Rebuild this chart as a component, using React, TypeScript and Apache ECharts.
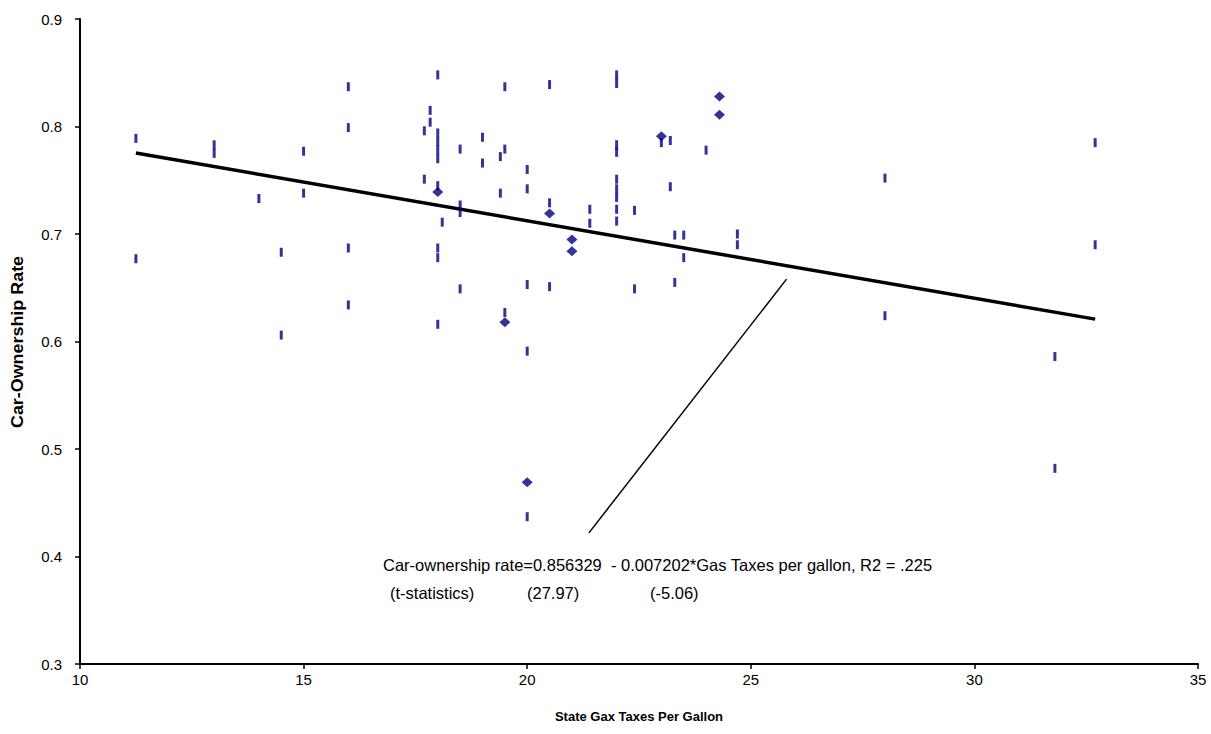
import React, { useEffect, useRef } from "react";
import * as echarts from "echarts";

// Observations drawn as short vertical dashes
const dashX = [
  11.25, 11.25, 13.0, 13.0, 14.0, 14.5, 14.5, 15.0, 15.0, 16.0, 16.0, 16.0, 16.0,
  17.7, 17.7, 17.83, 17.83, 18.0, 18.0, 18.0, 18.0, 18.0, 18.0, 18.0, 18.0, 18.0,
  18.1, 18.5, 18.5, 18.5, 18.5, 19.0, 19.0, 19.4, 19.4, 19.5, 19.5, 19.5,
  20.0, 20.0, 20.0, 20.0, 20.0, 20.5, 20.5, 20.5, 21.4, 21.4,
  22.0, 22.0, 22.0, 22.0, 22.0, 22.0, 22.0, 22.0, 22.0, 22.4, 22.4,
  23.0, 23.2, 23.2, 23.3, 23.3, 23.5, 23.5, 24.0, 24.7, 24.7,
  28.0, 28.0, 31.8, 31.8, 32.7, 32.7,
];
const dashY = [
  0.789, 0.677, 0.783, 0.775, 0.733, 0.683, 0.606, 0.777, 0.738, 0.837, 0.799, 0.687, 0.634,
  0.796, 0.751, 0.815, 0.804, 0.848, 0.794, 0.786, 0.778, 0.77, 0.745, 0.687, 0.678, 0.616,
  0.711, 0.779, 0.727, 0.72, 0.649, 0.79, 0.766, 0.772, 0.738, 0.837, 0.779, 0.627,
  0.76, 0.742, 0.653, 0.591, 0.437, 0.839, 0.729, 0.651, 0.723, 0.71,
  0.848, 0.84, 0.783, 0.776, 0.751, 0.742, 0.734, 0.723, 0.712, 0.722, 0.649,
  0.785, 0.787, 0.744, 0.699, 0.655, 0.699, 0.678, 0.778, 0.7, 0.69,
  0.752, 0.624, 0.586, 0.482, 0.785, 0.69,
];

// Observations drawn as diamonds
const diamondX = [18.0, 19.5, 20.0, 20.5, 21.0, 21.0, 23.0, 24.3, 24.3];
const diamondY = [0.739, 0.618, 0.469, 0.719, 0.695, 0.684, 0.791, 0.828, 0.811];

// Regression
const intercept = 0.856329;
const slope = -0.007202;
const fitX = [11.25, 32.7];

// Pointer line from annotation to the fit line
const pointerX = [21.38, 25.8];
const pointerY = [0.422, 0.658];

const xTicks = { min: 10, max: 35, interval: 5 };
const yTicks = { min: 0.3, max: 0.9, interval: 0.1 };

const xTitle = "State Gax Taxes Per Gallon";
const yTitle = "Car-Ownership Rate";
const eqLine1 = "Car-ownership rate=0.856329  - 0.007202*Gas Taxes per gallon, R2 = .225";
const eqLine2 = ["(t-statistics)", "(27.97)", "(-5.06)"];

const FONT = "'Liberation Sans', Arial, sans-serif";

export default function App() {
  const ref = useRef<HTMLDivElement>(null);
  useEffect(() => {
    if (!ref.current) return;
    const chart = echarts.init(ref.current, undefined, { renderer: "svg" });
    const axisLine = { show: true, lineStyle: { color: "#000", width: 2 } };
    const tick = { show: true, length: 5, lineStyle: { color: "#000", width: 1.5 } };
    const eqStyle = { fontSize: 16.5, fontFamily: FONT, fill: "#000" };
    chart.setOption({
      animation: false,
      backgroundColor: "#fff",
      grid: { left: 80, right: 13, top: 19, bottom: 70 },
      xAxis: {
        type: "value",
        min: xTicks.min,
        max: xTicks.max,
        interval: xTicks.interval,
        axisLine,
        axisTick: tick,
        splitLine: { show: false },
        axisLabel: { color: "#000", fontSize: 15, fontFamily: FONT, margin: 8 },
        name: xTitle,
        nameLocation: "middle",
        nameGap: 46,
        nameTextStyle: { color: "#000", fontSize: 13, fontWeight: "bold", fontFamily: FONT },
      },
      yAxis: {
        type: "value",
        min: yTicks.min,
        max: yTicks.max,
        interval: yTicks.interval,
        axisLine,
        axisTick: tick,
        splitLine: { show: false },
        axisLabel: {
          color: "#000",
          fontSize: 15,
          fontFamily: FONT,
          margin: 18,
          formatter: (v: number) => v.toFixed(1),
        },
      },
      series: [
        {
          name: "Fit",
          type: "line",
          data: fitX.map((x) => [x, intercept + slope * x]),
          symbol: "none",
          lineStyle: { color: "#000", width: 3.5 },
          z: 3,
        },
        {
          name: "Pointer",
          type: "line",
          data: pointerX.map((x, i) => [x, pointerY[i]]),
          symbol: "none",
          lineStyle: { color: "#000", width: 1.5 },
          z: 3,
        },
        {
          name: "States",
          type: "scatter",
          data: dashX.map((x, i) => [x, dashY[i]]),
          symbol: "rect",
          symbolSize: [3, 9],
          itemStyle: { color: "#000080" },
          z: 4,
        },
        {
          name: "States (highlighted)",
          type: "scatter",
          data: diamondX.map((x, i) => [x, diamondY[i]]),
          symbol: "diamond",
          symbolSize: [11, 10],
          itemStyle: { color: "#000080" },
          z: 5,
        },
      ],
      graphic: [
        {
          type: "text",
          x: 18,
          y: 342,
          rotation: Math.PI / 2,
          scaleX: 1.12,
          style: {
            text: yTitle,
            fontSize: 16,
            fontWeight: "bold",
            fontFamily: FONT,
            fill: "#000",
            align: "center",
            verticalAlign: "middle",
          },
        },
        { type: "text", left: 383, top: 556, style: { text: eqLine1, ...eqStyle } },
        { type: "text", left: 390, top: 584, style: { text: eqLine2[0], ...eqStyle } },
        { type: "text", left: 527, top: 584, style: { text: eqLine2[1], ...eqStyle } },
        { type: "text", left: 650, top: 584, style: { text: eqLine2[2], ...eqStyle } },
      ],
    });
    return () => chart.dispose();
  }, []);
  return (
    <div
      ref={ref}
      style={{ position: "absolute", left: 0, top: 0, width: 1211, height: 734 }}
    />
  );
}
